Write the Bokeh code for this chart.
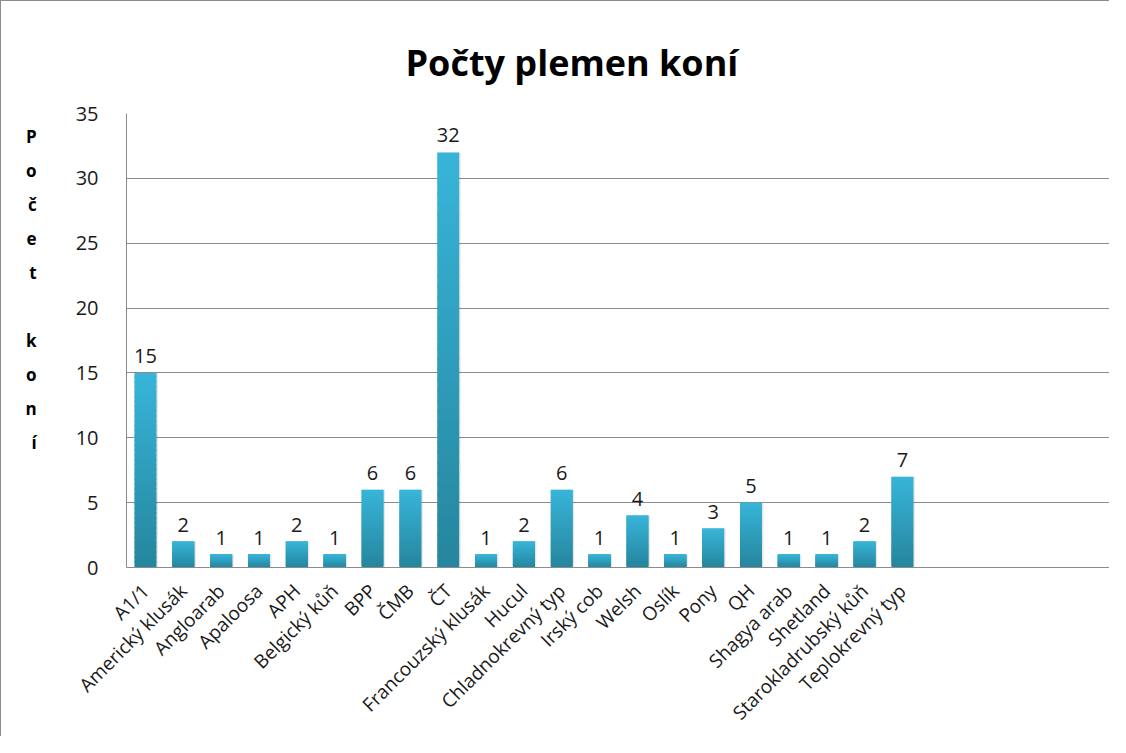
import numpy as np
from bokeh.plotting import figure
from bokeh.models import FactorRange, Range1d, ColumnDataSource
from bokeh.transform import dodge
from bokeh.core.properties import value
from bokeh.embed import file_html
from bokeh.resources import INLINE

# ---------------- data ----------------
categories = [
    "A1/1", "Americký klusák", "Angloarab", "Apaloosa", "APH", "Belgický kůň",
    "BPP", "ČMB", "ČT", "Francouzský klusák", "Hucul", "Chladnokrevný typ",
    "Irský cob", "Welsh", "Oslík", "Pony", "QH", "Shagya arab", "Shetland",
    "Starokladrubský kůň", "Teplokrevný typ",
]
counts = [15, 2, 1, 1, 2, 1, 6, 6, 32, 1, 2, 6, 1, 4, 1, 3, 5, 1, 1, 2, 7]
empty_slots = [" " * (i + 1) for i in range(5)]   # unused category slots on the right
y_ticks = [0, 5, 10, 15, 20, 25, 30, 35]
title_text = "Počty plemen koní"
y_title = "Počet koní"

# ---------------- style ----------------
FONT = "Open Sans"
GRID = "#8c8c8c"
TOP_RGB = np.array([56, 181, 217])
BOT_RGB = np.array([37, 133, 157])
N_STEPS = 40
BAR_W = 0.58

# gradient slices for every bar (per-bar vertical gradient)
xs, bots, tops, cols = [], [], [], []
for c, v in zip(categories, counts):
    for i in range(N_STEPS):
        xs.append(c)
        bots.append(v * i / N_STEPS)
        tops.append(min(v, v * (i + 1) / N_STEPS + 0.12))
        t = (i + 0.5) / N_STEPS
        rgb = (BOT_RGB * (1 - t) + TOP_RGB * t).round().astype(int)
        cols.append("#%02x%02x%02x" % tuple(rgb))
grad = ColumnDataSource(dict(x=xs, bottom=bots, top=tops, color=cols))
bars = ColumnDataSource(dict(x=categories, top=counts, label=[str(v) for v in counts]))

p = figure(
    x_range=FactorRange(factors=categories + empty_slots, range_padding=0),
    y_range=Range1d(0, 35),
    width=1109, height=736,
    output_backend="svg", toolbar_location=None,
    min_border_left=125, min_border_right=0,
    min_border_top=112, min_border_bottom=170,
    title=title_text,
)
p.styles = {"border-left": "1px solid #8c8c8c", "border-top": "1px solid #8c8c8c"}
p.outline_line_color = None
p.background_fill_color = "white"
p.border_fill_color = "white"

p.title.text_font = FONT
p.title.text_font_size = "36px"
p.title.text_font_style = "bold"
p.title.text_color = "black"
p.title.align = "left"
p.title.offset = 279
p.title.standoff = 53

# soft shadow + gradient bars
p.vbar(x=dodge("x", 0.04, range=p.x_range), top="top", width=BAR_W,
       fill_color="#000000", fill_alpha=0.10, line_color=None, source=bars)
p.vbar(x="x", bottom="bottom", top="top", width=BAR_W, fill_color="color",
       line_color=None, source=grad)

# value labels
p.text(x="x", y="top", text="label", source=bars,
       text_font=value(FONT), text_font_size="20px", text_color="#1a1a1a",
       text_align="center", text_baseline="alphabetic", y_offset=-17)

# axes
p.yaxis.ticker = y_ticks
p.yaxis.major_tick_line_color = None
p.yaxis.minor_tick_line_color = None
p.yaxis.axis_line_color = GRID
p.yaxis.major_label_text_font = FONT
p.yaxis.major_label_text_font_size = "20px"
p.yaxis.major_label_text_color = "#1a1a1a"
p.yaxis.major_label_standoff = 22

# vertical stacked axis title (one letter per line)
letters = ["" if ch == " " else ch for ch in y_title]
p.yaxis.axis_label = "\n".join(letters + ["", "", ""])
p.yaxis.axis_label_orientation = "horizontal"
p.yaxis.axis_label_text_font = FONT
p.yaxis.axis_label_text_font_size = "17px"
p.yaxis.axis_label_text_font_style = "bold"
p.yaxis.axis_label_text_color = "black"
p.yaxis.axis_label_text_line_height = 1.48
p.yaxis.axis_label_standoff = 36

p.xaxis.major_label_orientation = np.pi / 4
p.xaxis.major_tick_line_color = None
p.xaxis.minor_tick_line_color = None
p.xaxis.axis_line_color = GRID
p.xaxis.major_label_text_font = FONT
p.xaxis.major_label_text_font_size = "19px"
p.xaxis.major_label_text_color = "#1a1a1a"
p.xaxis.major_label_standoff = 14

p.xgrid.visible = False
p.ygrid.ticker = y_ticks
p.ygrid.grid_line_color = GRID
p.ygrid.grid_line_width = 1

open("out.html", "w").write(file_html(p, INLINE))
